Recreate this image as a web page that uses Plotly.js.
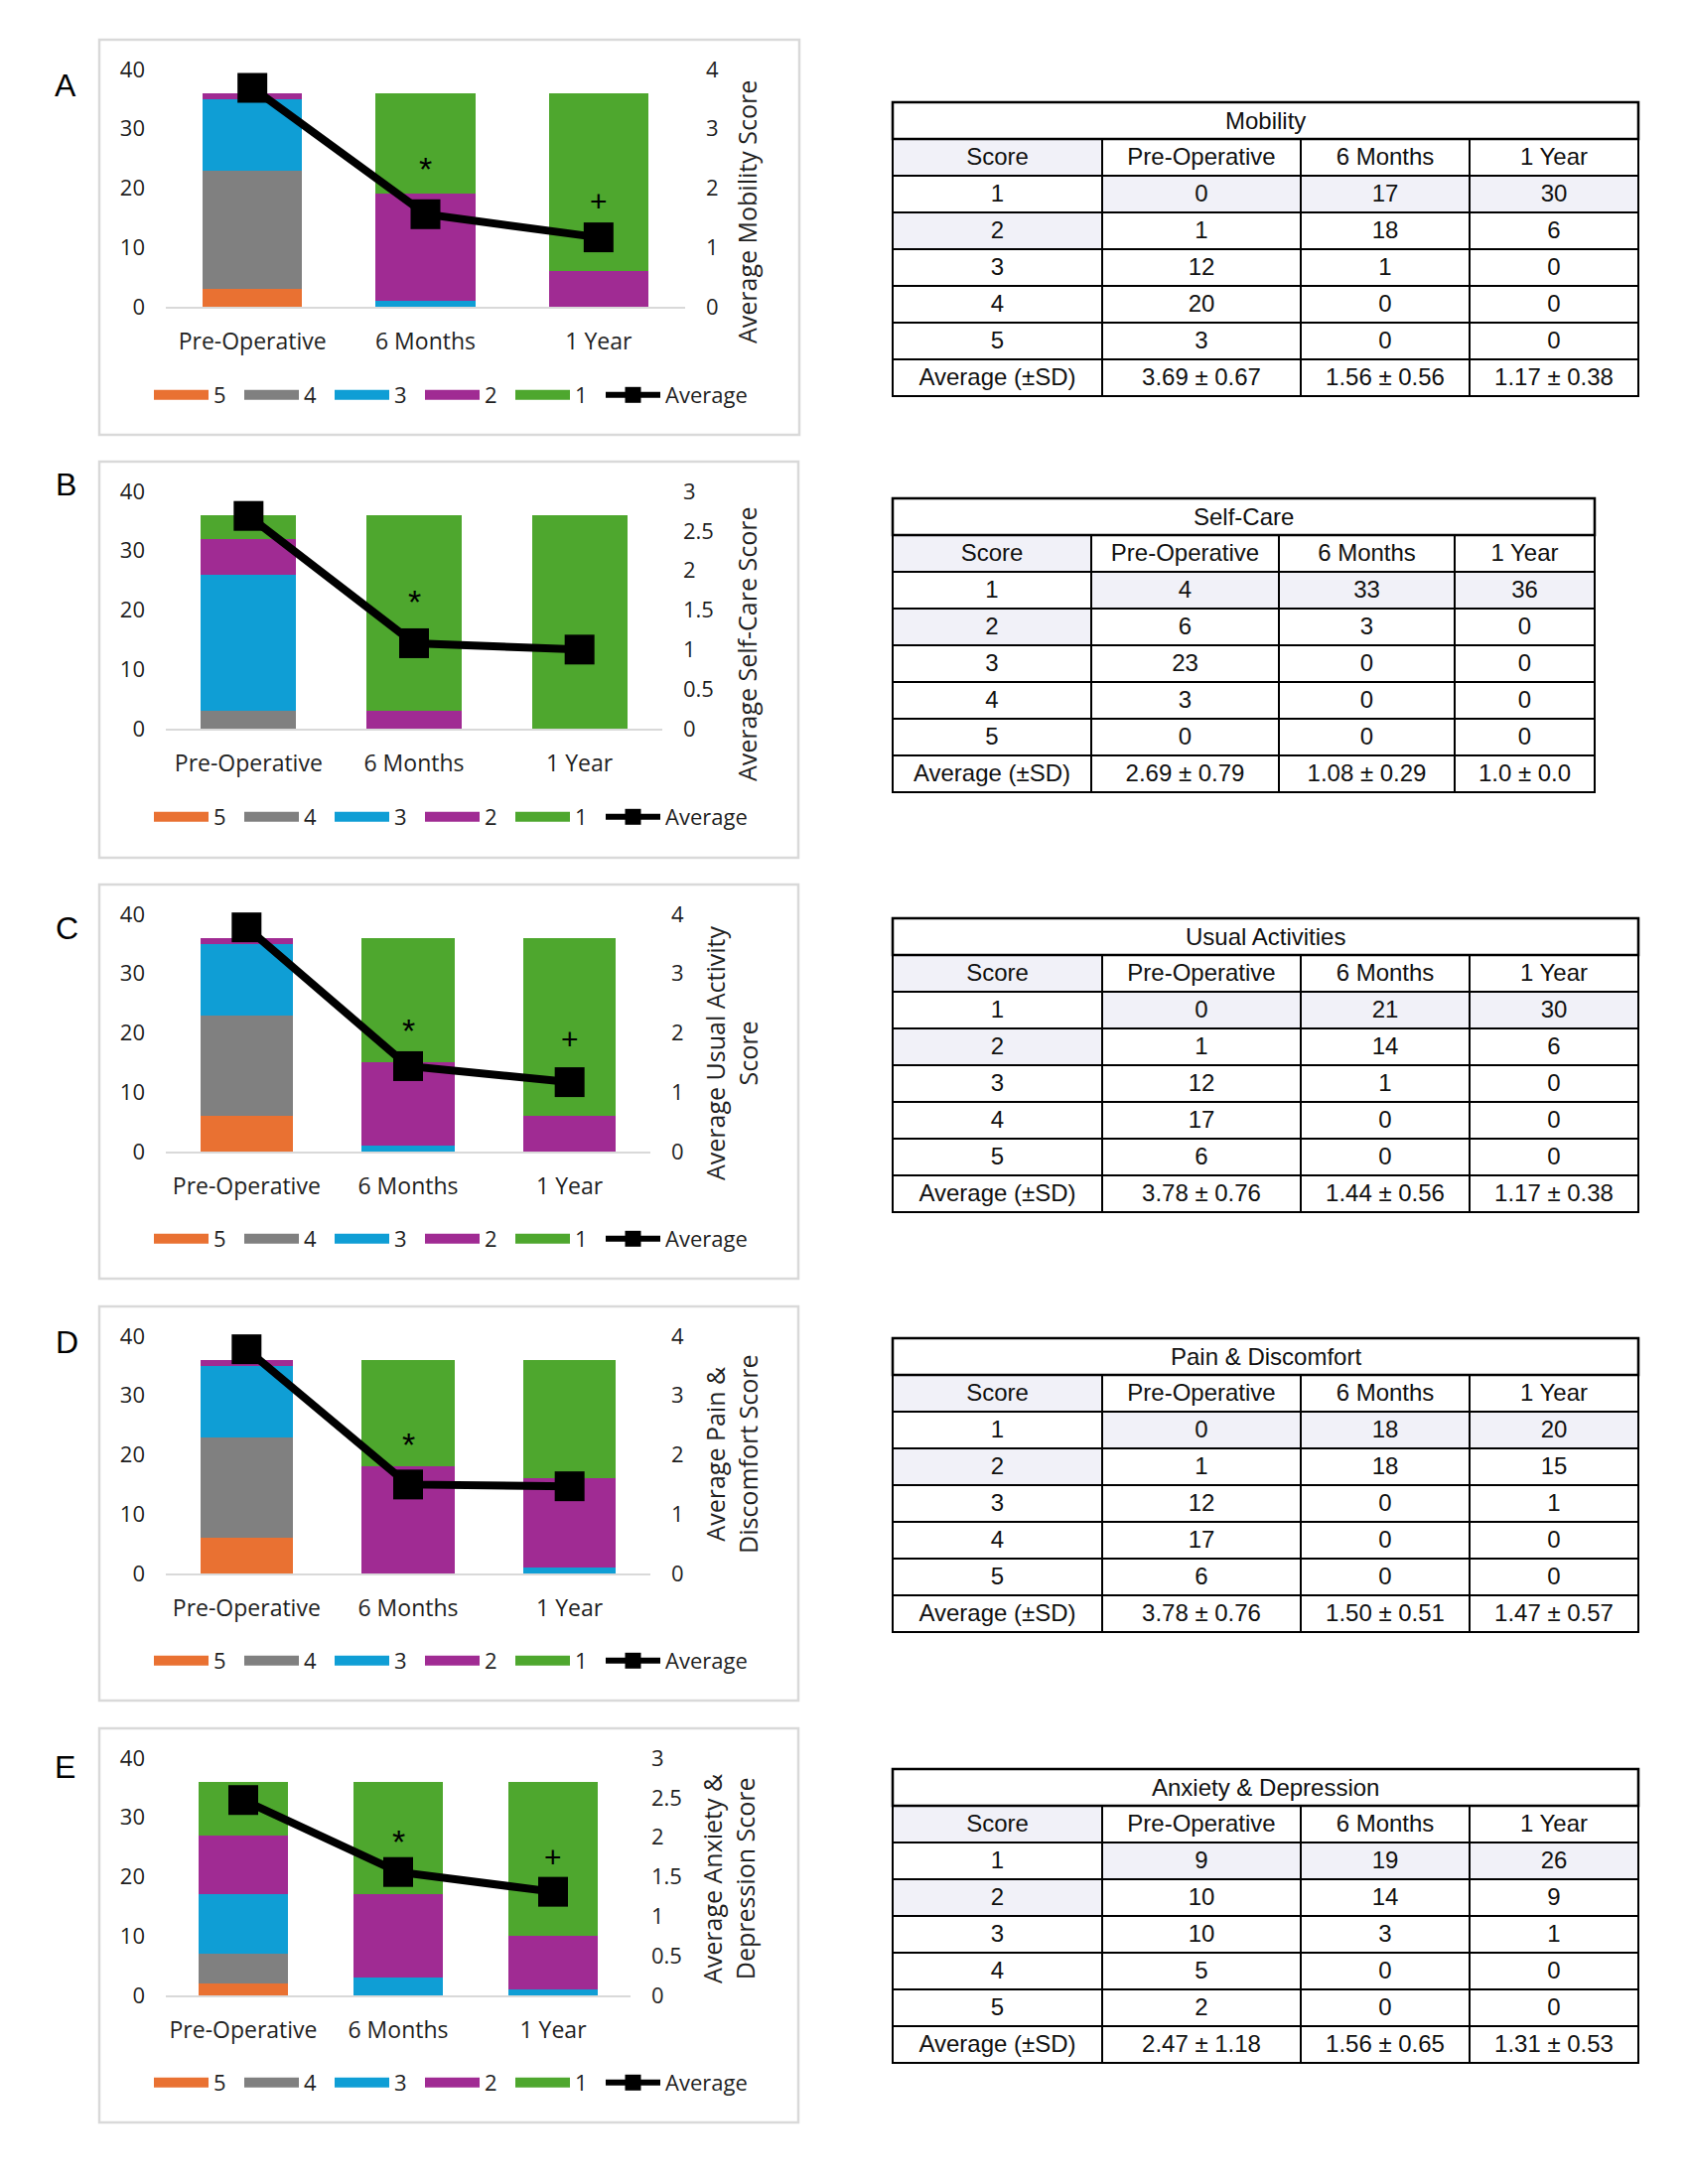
<!DOCTYPE html>
<html><head><meta charset="utf-8">
<script src="https://cdn.plot.ly/plotly-3.0.1.min.js"></script>
<style>html,body{margin:0;padding:0;background:#fff}#chart{width:1700px;height:2200px}</style>
</head><body><div id="chart"></div>
<script>
// ---------------- DATA ----------------
const categories = ["Pre-Operative", "6 Months", "1 Year"];
const scoreNames = ["5", "4", "3", "2", "1"];           // legend / stacking order (bottom -> top)
const tableHeader = ["Score", "Pre-Operative", "6 Months", "1 Year"];
const tableRowLabels = ["1", "2", "3", "4", "5", "Average (±SD)"];

// counts per score 1..5 (rows); each row = [Pre-Operative, 6 Months, 1 Year]
const mobilityCounts = [[0, 17, 30], [1, 18, 6], [12, 1, 0], [20, 0, 0], [3, 0, 0]];
const mobilityAverage = [3.69, 1.56, 1.17];
const mobilityAverageText = ["3.69 ± 0.67", "1.56 ± 0.56", "1.17 ± 0.38"];

const selfCareCounts = [[4, 33, 36], [6, 3, 0], [23, 0, 0], [3, 0, 0], [0, 0, 0]];
const selfCareAverage = [2.69, 1.08, 1.0];
const selfCareAverageText = ["2.69 ± 0.79", "1.08 ± 0.29", "1.0 ± 0.0"];

const usualActivityCounts = [[0, 21, 30], [1, 14, 6], [12, 1, 0], [17, 0, 0], [6, 0, 0]];
const usualActivityAverage = [3.78, 1.44, 1.17];
const usualActivityAverageText = ["3.78 ± 0.76", "1.44 ± 0.56", "1.17 ± 0.38"];

const painCounts = [[0, 18, 20], [1, 18, 15], [12, 0, 1], [17, 0, 0], [6, 0, 0]];
const painAverage = [3.78, 1.50, 1.47];
const painAverageText = ["3.78 ± 0.76", "1.50 ± 0.51", "1.47 ± 0.57"];

const anxietyCounts = [[9, 19, 26], [10, 14, 9], [10, 3, 1], [5, 0, 0], [2, 0, 0]];
const anxietyAverage = [2.47, 1.56, 1.31];
const anxietyAverageText = ["2.47 ± 1.18", "1.56 ± 0.65", "1.31 ± 0.53"];

// ---------------- STYLE / LAYOUT ----------------
const W = 1700, H = 2200;
const px = v => v / W;
const py = v => 1 - v / H;
const scoreColors = {"5": "#E97132", "4": "#808080", "3": "#0F9ED5", "2": "#A02B93", "1": "#4EA72E"};
const chartFont = "Open Sans, Noto Sans, sans-serif";
const tableFont = "Liberation Sans, Arial, sans-serif";
const textColor = "#1f1f1f";
const shade = "#F1F1F8";

const panels = [
  {letter: "A", counts: mobilityCounts, avg: mobilityAverage, avgText: mobilityAverageText,
   title: "Mobility", axisTitle: "Average Mobility Score", y2max: 4, y2dtick: 1,
   box: [100, 40, 805, 438], plotX: [167, 690], plotY: [309, 70], letterPos: [66, 86],
   legendY: 398, axisTitlePos: [752, 214],
   marks: [["*", "6 Months", 23.3], ["+", "1 Year", 17.9]],
   table: {x0: 899, top: 103, widths: [211, 200, 170, 170]}},
  {letter: "B", counts: selfCareCounts, avg: selfCareAverage, avgText: selfCareAverageText,
   title: "Self-Care", axisTitle: "Average Self-Care Score", y2max: 3, y2dtick: 0.5,
   box: [100, 465, 804, 864], plotX: [167, 667], plotY: [734, 495], letterPos: [66, 488],
   legendY: 823, axisTitlePos: [752, 649],
   marks: [["*", "6 Months", 21.4]],
   table: {x0: 899, top: 502, widths: [200, 189, 177, 141]}},
  {letter: "C", counts: usualActivityCounts, avg: usualActivityAverage, avgText: usualActivityAverageText,
   title: "Usual Activities", axisTitle: "Average Usual Activity<br>Score", y2max: 4, y2dtick: 1,
   box: [100, 891, 804, 1288], plotX: [167, 655], plotY: [1160, 921], letterPos: [67, 935],
   legendY: 1248, axisTitlePos: [736, 1061],
   marks: [["*", "6 Months", 20.5], ["+", "1 Year", 19]],
   table: {x0: 899, top: 925, widths: [211, 200, 170, 170]}},
  {letter: "D", counts: painCounts, avg: painAverage, avgText: painAverageText,
   title: "Pain & Discomfort", axisTitle: "Average Pain &<br>Discomfort Score", y2max: 4, y2dtick: 1,
   box: [100, 1316, 804, 1713], plotX: [167, 655], plotY: [1585, 1346], letterPos: [67, 1352],
   legendY: 1673, axisTitlePos: [736, 1465],
   marks: [["*", "6 Months", 21.8]],
   table: {x0: 899, top: 1348, widths: [211, 200, 170, 170]}},
  {letter: "E", counts: anxietyCounts, avg: anxietyAverage, avgText: anxietyAverageText,
   title: "Anxiety & Depression", axisTitle: "Average Anxiety &<br>Depression Score", y2max: 3, y2dtick: 0.5,
   box: [100, 1741, 804, 2138], plotX: [167, 635], plotY: [2010, 1771], letterPos: [65, 1780],
   legendY: 2098, axisTitlePos: [733, 1892],
   marks: [["*", "6 Months", 25.9], ["+", "1 Year", 23.4]],
   table: {x0: 899, top: 1782, widths: [211, 200, 170, 170]}}
];

const ROW = 37;
const traces = [];
const layout = {
  width: W, height: H, margin: {l: 0, r: 0, t: 0, b: 0},
  paper_bgcolor: "#fff", plot_bgcolor: "rgba(0,0,0,0)",
  barmode: "stack", bargap: 0.425,
  font: {family: chartFont, size: 22, color: textColor},
  showlegend: true,
  annotations: [], shapes: []
};

panels.forEach((p, idx) => {
  const i = idx + 1;
  const xId = i === 1 ? "x" : "x" + i;
  const yLeft = (2 * i - 1) === 1 ? "y" : "y" + (2 * i - 1);
  const yRight = "y" + (2 * i);
  const legendId = i === 1 ? "legend" : "legend" + i;
  const axKey = id => id.replace("x", "xaxis").replace("y", "yaxis");

  // stacked bars: score 5 at bottom ... score 1 on top
  scoreNames.forEach(s => {
    const row = p.counts[Number(s) - 1];
    traces.push({type: "bar", x: categories, y: row, name: s, xaxis: xId, yaxis: yLeft,
      marker: {color: scoreColors[s], line: {width: 0}}, showlegend: false, hoverinfo: "skip"});
  });
  // average line
  traces.push({type: "scatter", mode: "lines+markers", x: categories, y: p.avg, name: "Average",
    xaxis: xId, yaxis: yRight, cliponaxis: false, showlegend: false, hoverinfo: "skip",
    line: {color: "#000", width: 8}, marker: {symbol: "square", size: 30, color: "#000"}});
  // legend entries
  scoreNames.forEach(s => {
    traces.push({type: "scatter", mode: "lines", x: [null], y: [null], name: s, xaxis: xId, yaxis: yLeft,
      legend: legendId, line: {color: scoreColors[s], width: 15}, hoverinfo: "skip"});
  });
  traces.push({type: "scatter", mode: "lines+markers", x: [null], y: [null], name: "Average", xaxis: xId, yaxis: yRight,
    legend: legendId, legendwidth: 100, line: {color: "#000", width: 6},
    marker: {symbol: "square", size: 17, color: "#000"}, hoverinfo: "skip"});

  layout[axKey(xId)] = {domain: [px(p.plotX[0]), px(p.plotX[1])], anchor: yLeft, type: "category",
    showline: true, linecolor: "#D9D9D9", linewidth: 2, ticks: "", showgrid: false, zeroline: false,
    ticklabelstandoff: 13, tickfont: {size: 23, color: textColor}, fixedrange: true};
  layout[axKey(yLeft)] = {domain: [py(p.plotY[0]), py(p.plotY[1])], anchor: xId, range: [0, 40],
    tick0: 0, dtick: 10, showgrid: false, zeroline: false, showline: false, ticks: "",
    ticklabelstandoff: 20, tickfont: {size: 22, color: textColor}, fixedrange: true};
  layout[axKey(yRight)] = {overlaying: yLeft, side: "right", anchor: xId, range: [0, p.y2max],
    tick0: 0, dtick: p.y2dtick, showgrid: false, zeroline: false, showline: false, ticks: "",
    ticklabelstandoff: 20, tickfont: {size: 22, color: textColor}, fixedrange: true};

  layout[legendId] = {orientation: "h", x: px(150), xanchor: "left", y: py(p.legendY), yanchor: "middle",
    itemwidth: 55, entrywidth: 21, entrywidthmode: "pixels", traceorder: "normal",
    font: {family: chartFont, size: 22, color: textColor}, bgcolor: "rgba(0,0,0,0)", borderwidth: 0};

  // panel box
  layout.shapes.push({type: "rect", xref: "paper", yref: "paper",
    x0: px(p.box[0]), x1: px(p.box[2]), y0: py(p.box[3]), y1: py(p.box[1]),
    line: {color: "#D9D9D9", width: 2.5}, fillcolor: "rgba(0,0,0,0)", layer: "below"});
  // panel letter
  layout.annotations.push({xref: "paper", yref: "paper", x: px(p.letterPos[0]), y: py(p.letterPos[1]),
    text: p.letter, showarrow: false, xanchor: "center", yanchor: "middle",
    font: {family: tableFont, size: 32, color: "#000"}});
  // right axis title
  layout.annotations.push({xref: "paper", yref: "paper", x: px(p.axisTitlePos[0]), y: py(p.axisTitlePos[1]),
    text: p.axisTitle, showarrow: false, textangle: -90, xanchor: "center", yanchor: "middle",
    font: {family: chartFont, size: 25, color: textColor}});
  // significance marks
  p.marks.forEach(m => {
    layout.annotations.push({xref: xId, yref: yLeft, x: m[1], y: m[2], text: m[0], showarrow: false,
      xanchor: "center", yanchor: "middle",
      font: {family: tableFont, size: m[0] === "*" ? 34 : 30, color: "#000"}});
  });

  // table
  const t = p.table;
  const tw = t.widths.reduce((a, b) => a + b, 0);
  const x1 = t.x0 + tw;
  const headerTop = t.top + ROW;
  const bottom = t.top + ROW * 8;
  layout.shapes.push({type: "rect", xref: "paper", yref: "paper",
    x0: px(t.x0), x1: px(x1), y0: py(headerTop), y1: py(t.top),
    line: {color: "#000", width: 2.5}, fillcolor: "#fff"});
  layout.annotations.push({xref: "paper", yref: "paper", x: px((t.x0 + x1) / 2), y: py(t.top + ROW / 2),
    text: p.title.replace("&", "&amp;"), showarrow: false, xanchor: "center", yanchor: "middle",
    font: {family: tableFont, size: 24, color: "#111"}});

  const cellValues = [tableRowLabels];
  for (let j = 0; j < categories.length; j++) {
    cellValues.push(p.counts.map(r => String(r[j])).concat([p.avgText[j]]));
  }
  const cellFill = [
    ["#fff", shade, "#fff", "#fff", "#fff", "#fff"],
    [shade, "#fff", "#fff", "#fff", "#fff", "#fff"],
    [shade, "#fff", "#fff", "#fff", "#fff", "#fff"],
    [shade, "#fff", "#fff", "#fff", "#fff", "#fff"]
  ];
  traces.push({type: "table", domain: {x: [px(t.x0), px(x1)], y: [py(bottom + 2), py(headerTop)]},
    columnwidth: t.widths,
    header: {values: tableHeader, height: ROW, align: "center",
      line: {color: "#000", width: 2.5}, fill: {color: [shade, "#fff", "#fff", "#fff"]},
      font: {family: tableFont, size: 24, color: "#111"}},
    cells: {values: cellValues, height: ROW, align: "center",
      line: {color: "#000", width: 2.5}, fill: {color: cellFill},
      font: {family: tableFont, size: 24, color: "#111"}}});
});

Plotly.newPlot("chart", traces, layout, {displayModeBar: false, staticPlot: true});
</script>
</body></html>
